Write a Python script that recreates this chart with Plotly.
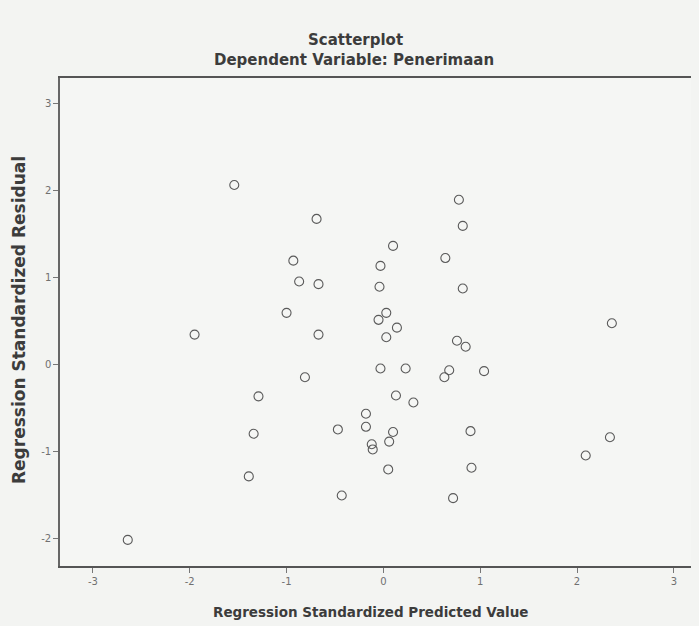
import plotly.graph_objects as go

pred = [-1.54, -0.69, 0.78, 0.82, 0.10, -0.93, -0.03, 0.64, -0.87, -0.67,
        -0.04, 0.82, -1.00, 0.03, -0.05, 0.14, 0.03, -0.67, -1.95, 2.36,
        0.76, 0.85, -0.03, 0.23, 0.68, 0.63, 1.04, -0.81, -1.29, -1.34,
        -1.39, -0.47, -0.18, -0.18, -0.12, -0.11, -0.43, -2.64, 0.13, 0.31,
        0.10, 0.06, 0.05, 0.72, 0.90, 0.91, 2.34, 2.09]
resid = [2.06, 1.67, 1.89, 1.59, 1.36, 1.19, 1.13, 1.22, 0.95, 0.92,
         0.89, 0.87, 0.59, 0.59, 0.51, 0.42, 0.31, 0.34, 0.34, 0.47,
         0.27, 0.20, -0.05, -0.05, -0.07, -0.15, -0.08, -0.15, -0.37, -0.80,
         -1.29, -0.75, -0.57, -0.72, -0.92, -0.98, -1.51, -2.02, -0.36, -0.44,
         -0.78, -0.89, -1.21, -1.54, -0.77, -1.19, -0.84, -1.05]
x_ticks = [-3, -2, -1, 0, 1, 2, 3]
y_ticks = [-2, -1, 0, 1, 2, 3]

title_main = "Scatterplot"
title_sub = "Dependent Variable: Penerimaan"
x_title = "Regression Standardized Predicted Value"
y_title = "Regression Standardized Residual"

font_family = "DejaVu Sans, Arial, sans-serif"
title_col = "#3c3c3c"
bg = "#f3f4f2"

fig = go.Figure()
fig.add_trace(go.Scatter(
    x=pred, y=resid, mode="markers",
    marker=dict(symbol="circle-open", size=9, color="#5a5a5a",
                line=dict(width=1.1, color="#5a5a5a")),
    showlegend=False, hoverinfo="x+y"))

# figure is offset by the page's 8px body margin, so size is reduced accordingly
W, H = 691, 618
L, R, T, B = 52, 0, 70, 60
ph = H - T - B
pw = W - L - R


def py(fig_y):
    return (H - B - fig_y) / ph


def px(fig_x):
    return (fig_x - L) / pw


fig.update_layout(
    width=W, height=H,
    margin=dict(l=L, r=R, t=T, b=B),
    paper_bgcolor=bg,
    plot_bgcolor="#f5f6f4",
    font=dict(family=font_family, color="#3a3a3a"),
    annotations=[
        dict(text="<b>" + title_main + "</b>", x=px(347), y=py(32), xref="paper", yref="paper",
             showarrow=False, xanchor="center", yanchor="middle",
             font=dict(size=15, color=title_col)),
        dict(text="<b>" + title_sub + "</b>", x=px(346), y=py(52), xref="paper", yref="paper",
             showarrow=False, xanchor="center", yanchor="middle",
             font=dict(size=15, color=title_col)),
        dict(text="<b>" + x_title + "</b>", x=px(363), y=py(604), xref="paper", yref="paper",
             showarrow=False, xanchor="center", yanchor="middle",
             font=dict(size=13.5, color=title_col)),
        dict(text="<b>" + y_title + "</b>", x=px(11), y=py(312), xref="paper", yref="paper",
             showarrow=False, xanchor="center", yanchor="middle", textangle=-90,
             font=dict(size=17, color=title_col)),
    ],
    xaxis=dict(
        range=[-3.34, 3.26], tickvals=x_ticks, ticktext=[str(v) for v in x_ticks],
        showgrid=False, zeroline=False, showline=True, linecolor="#555555", linewidth=1.5,
        mirror=True, ticks="outside", ticklen=5, tickcolor="#777777",
        tickfont=dict(size=10, color="#707070"),
    ),
    yaxis=dict(
        range=[-2.32, 3.29], tickvals=y_ticks, ticktext=[str(v) for v in y_ticks],
        showgrid=False, zeroline=False, showline=True, linecolor="#666666", linewidth=1.5,
        ticks="outside", ticklen=5, tickcolor="#777777",
        tickfont=dict(size=10, color="#707070"),
    ),
)

fig.write_html("out.html", post_script="document.body.style.background='" + bg + "';")
